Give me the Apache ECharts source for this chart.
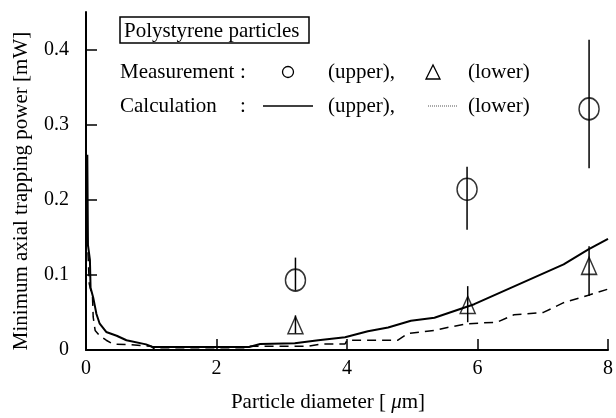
<!DOCTYPE html>
<html>
<head>
<meta charset="utf-8">
<script src="https://cdn.jsdelivr.net/npm/echarts@6/dist/echarts.min.js"></script>
<style>
  html, body { margin: 0; padding: 0; background: #fff; }
  #chart { width: 616px; height: 418px; }
</style>
</head>
<body>
<div id="chart"></div>
<script>
// calculated curves, [diameter um, power mW]
const calcUpper = [
  [0.02, 0.26], [0.03, 0.14], [0.06, 0.12], [0.07, 0.083], [0.11, 0.07],
  [0.16, 0.048], [0.21, 0.035], [0.31, 0.024], [0.47, 0.019], [0.62, 0.013],
  [0.92, 0.0075], [1.02, 0.004], [1.5, 0.004], [2.5, 0.004], [2.67, 0.008],
  [3.2, 0.009], [3.56, 0.013], [3.97, 0.017], [4.32, 0.025], [4.63, 0.03],
  [4.98, 0.039], [5.34, 0.043], [5.95, 0.061], [7.32, 0.114], [7.7, 0.134],
  [8.0, 0.148]
]
const calcLower = [
  [0.02, 0.15], [0.05, 0.088], [0.1, 0.07], [0.11, 0.044], [0.14, 0.026],
  [0.21, 0.019], [0.31, 0.013], [0.41, 0.008], [0.67, 0.007], [1.0, 0.005],
  [1.05, 0.001], [2.44, 0.001], [2.52, 0.005], [3.41, 0.005], [3.6, 0.008],
  [3.97, 0.008], [4.0, 0.013], [4.78, 0.013], [4.93, 0.022], [5.34, 0.026],
  [5.54, 0.03], [5.85, 0.035], [6.3, 0.037], [6.56, 0.047], [7.01, 0.05],
  [7.32, 0.063], [7.7, 0.073], [8.0, 0.081]
]
// measurements
const measX = [3.21, 5.84, 7.71]
const measUpper = [0.093, 0.214, 0.321]
const measUpperLo = [0.079, 0.16, 0.242]
const measUpperHi = [0.123, 0.244, 0.413]
const measLowerX = [3.21, 5.85, 7.71]
const measLower = [0.033, 0.06, 0.112]
const measLowerLo = [0.022, 0.037, 0.072]
const measLowerHi = [0.046, 0.085, 0.138]
const yTicks = [0, 0.1, 0.2, 0.3, 0.4]

const FONT = '"Liberation Serif", "Times New Roman", serif'

const errBars = measX.map((x, i) => [x, measUpperLo[i], measUpperHi[i]])
  .concat(measLowerX.map((x, i) => [x, measLowerLo[i], measLowerHi[i]]))

const myChart = echarts.init(document.getElementById('chart'))

const txt = (text, x, y) => ({
  type: 'text', x: x, y: y,
  style: { text: text, font: '21px ' + FONT, fill: '#000', verticalAlign: 'middle' }
})

const option = {
  animation: false,
  grid: { left: 86, right: 4, top: 12, bottom: 65 },
  xAxis: {
    type: 'value',
    min: 0,
    max: 8,
    interval: 2,
    name: '{n|Particle diameter [ }{mu|μ}{n|m]}',
    nameLocation: 'middle',
    nameGap: 42,
    nameTextStyle: {
      padding: [0, 38, 0, 0],
      rich: {
        n: { fontFamily: FONT, fontSize: 21, color: '#000' },
        mu: { fontFamily: FONT, fontSize: 21, fontStyle: 'italic', color: '#000' }
      }
    },
    axisLine: { lineStyle: { color: '#000', width: 2 } },
    axisTick: { inside: true, length: 11, lineStyle: { color: '#000', width: 1.5 } },
    axisLabel: { color: '#000', fontFamily: FONT, fontSize: 20, margin: 9 },
    splitLine: { show: false }
  },
  yAxis: {
    type: 'value',
    min: 0,
    max: 0.45,
    interval: 0.1,
    name: 'Minimum axial trapping power [mW]',
    nameLocation: 'middle',
    nameGap: 54,
    nameTextStyle: { fontFamily: FONT, fontSize: 21, color: '#000', padding: [0, 20, 0, 0] },
    axisLine: { show: true, lineStyle: { color: '#000', width: 2 } },
    axisTick: { show: true, inside: true, length: 11, lineStyle: { color: '#000', width: 1.5 } },
    axisLabel: {
      color: '#000', fontFamily: FONT, fontSize: 20, margin: 17,
      showMaxLabel: false,
      formatter: v => {
        const t = yTicks.find(k => Math.abs(k - v) < 1e-6)
        return t === undefined ? '' : String(t)
      }
    },
    splitLine: { show: false }
  },
  series: [
    {
      type: 'line',
      data: calcUpper,
      showSymbol: false,
      lineStyle: { color: '#000', width: 2 },
      z: 3
    },
    {
      type: 'line',
      data: calcLower,
      showSymbol: false,
      lineStyle: { color: '#000', width: 1.5, type: [9, 6] },
      z: 3
    },
    {
      type: 'custom',
      data: errBars,
      renderItem: (params, api) => {
        const p1 = api.coord([api.value(0), api.value(1)])
        const p2 = api.coord([api.value(0), api.value(2)])
        return {
          type: 'line',
          shape: { x1: p1[0], y1: p1[1], x2: p2[0], y2: p2[1] },
          style: { stroke: '#000', lineWidth: 1.5 }
        }
      },
      z: 4
    },
    {
      type: 'scatter',
      data: measX.map((x, i) => [x, measUpper[i]]),
      symbol: 'circle',
      symbolSize: [20, 22],
      itemStyle: { color: 'rgba(0,0,0,0)', borderColor: '#000', borderWidth: 1.5 },
      z: 5
    },
    {
      type: 'scatter',
      data: measLowerX.map((x, i) => [x, measLower[i]]),
      symbol: 'triangle',
      symbolSize: [15, 17],
      itemStyle: { color: 'rgba(0,0,0,0)', borderColor: '#000', borderWidth: 1.5 },
      z: 5
    }
  ],
  graphic: [
    {
      type: 'rect',
      shape: { x: 120, y: 17, width: 189, height: 26 },
      style: { fill: 'none', stroke: '#000', lineWidth: 1.5 }
    },
    txt('Polystyrene particles', 124, 31),
    txt('Measurement', 120, 72),
    txt(':', 240, 72),
    {
      type: 'circle',
      shape: { cx: 288, cy: 72, r: 5.5 },
      style: { fill: 'none', stroke: '#000', lineWidth: 1.3 }
    },
    txt('(upper),', 328, 72),
    {
      type: 'polygon',
      shape: { points: [[426, 79], [440, 79], [433, 65]] },
      style: { fill: 'none', stroke: '#000', lineWidth: 1.3 }
    },
    txt('(lower)', 468, 72),
    txt('Calculation', 120, 106),
    txt(':', 240, 106),
    {
      type: 'line',
      shape: { x1: 263, y1: 106, x2: 313, y2: 106 },
      style: { stroke: '#000', lineWidth: 1.5 }
    },
    txt('(upper),', 328, 106),
    {
      type: 'line',
      shape: { x1: 428, y1: 106, x2: 457, y2: 106 },
      style: { stroke: '#555', lineWidth: 1, lineDash: [1, 1] }
    },
    txt('(lower)', 468, 106)
  ]
}

myChart.setOption(option)
window.addEventListener('resize', () => {
  myChart.resize()
})
</script>
</body>
</html>
